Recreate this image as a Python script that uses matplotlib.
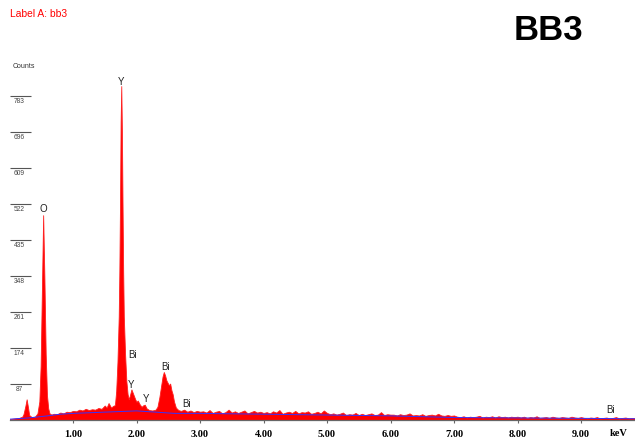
import numpy as np
import matplotlib
matplotlib.use("Agg")
import matplotlib.pyplot as plt

plt.rcParams['font.family'] = ['Liberation Sans', 'DejaVu Sans']

# spectrum, peak region (keV, counts)
peak_kev = [0.00, 0.05, 0.10, 0.15, 0.20, 0.22, 0.25, 0.27, 0.29, 0.31, 0.35, 0.40,
            0.44, 0.47, 0.49, 0.51, 0.53, 0.55, 0.57, 0.59, 0.61, 0.63, 0.66, 0.70,
            0.75, 0.80, 0.85, 0.90, 0.95, 1.00, 1.05, 1.10, 1.15, 1.20, 1.25, 1.30,
            1.35, 1.40, 1.45, 1.50, 1.53, 1.56, 1.60, 1.63, 1.66, 1.68, 1.70, 1.72,
            1.73, 1.74, 1.75, 1.76, 1.77, 1.78, 1.79, 1.80, 1.82, 1.84, 1.86, 1.88,
            1.90, 1.92, 1.94, 1.96, 1.98, 2.00, 2.02, 2.05, 2.08, 2.11, 2.13, 2.16,
            2.20, 2.25, 2.30, 2.33, 2.36, 2.39, 2.41, 2.43, 2.45, 2.47, 2.49, 2.51,
            2.53, 2.55, 2.57, 2.59, 2.62, 2.66, 2.70, 2.75, 2.80, 2.85, 2.90, 2.95, 3.00]
peak_counts = [2, 3, 4, 5, 8, 14, 34, 50, 32, 12, 7, 8,
               16, 45, 130, 310, 495, 340, 160, 60, 28, 16, 13, 15,
               14, 18, 16, 20, 19, 22, 21, 25, 23, 27, 24, 26,
               25, 29, 27, 35, 30, 41, 30, 34, 36, 70, 140, 250,
               360, 520, 720, 807, 700, 520, 360, 250, 160, 95, 62, 50,
               62, 74, 66, 58, 50, 44, 47, 38, 32, 36, 37, 28,
               24, 23, 25, 32, 55, 85, 105, 116, 108, 96, 90, 84,
               88, 72, 62, 45, 30, 24, 22, 25, 20, 23, 19, 22, 20]

# spectrum tail, channels every 0.05 keV from 3.05 to 9.85
tail_counts = [21, 18, 24, 17, 20, 22, 16, 19, 25, 18, 21, 17, 20, 23, 16, 19, 22, 18, 20, 17,
               19, 16, 21, 18, 24, 15, 18, 20, 17, 22, 16, 19, 18, 21, 15, 17, 20, 16, 23, 17,
               14, 16, 13, 15, 18, 12, 14, 13, 17, 12, 15, 12, 14, 16, 12, 13, 19, 12, 14, 13,
               13, 11, 14, 12, 13, 16, 11, 12, 11, 14, 10, 12, 13, 11, 15, 11, 10, 12, 10, 11,
               8, 7, 9, 6, 8, 7, 8, 10, 6, 8, 7, 9, 6, 9, 7, 8, 6, 8, 7, 8,
               6, 8, 5, 7, 6, 9, 5, 6, 7, 5, 8, 6, 5, 7, 6, 5, 8, 6, 5, 7,
               5, 4, 6, 5, 7, 4, 5, 6, 4, 5, 7, 4, 5, 6, 4, 5, 4]
tail_kev = np.round(np.arange(3.05, 9.851, 0.05), 2)

# background fit
bg_kev = [0.0, 0.3, 0.6, 0.8, 1.0, 1.5, 2.0, 2.3, 2.6, 3.0, 4.0, 5.0, 6.0, 7.0, 8.0, 9.0, 9.85]
bg_counts = [2, 5, 10, 14, 16, 19, 22, 19, 16, 16, 14, 12, 10, 6, 5, 4, 3]

# peak labels
labels = ["Y", "O", "Bi", "Y", "Y", "Bi", "Bi", "Bi"]
label_kev = [1.757, 0.528, 1.93, 1.91, 2.15, 2.46, 2.78, 9.46]
label_counts = [817, 510, 157, 84, 50, 128, 38, 23]

yticks = [87, 174, 261, 348, 435, 522, 609, 696, 783]
xticks = [1, 2, 3, 4, 5, 6, 7, 8, 9]

kev = np.concatenate([peak_kev, tail_kev])
counts = np.concatenate([peak_counts, tail_counts])

fig = plt.figure(figsize=(6.35, 4.41), dpi=100)
ax = fig.add_axes([9.5 / 635, 21 / 441, 1 - 9.5 / 635, 360 / 441])

ax.fill_between(kev, 0, counts, color="#ff0000", linewidth=0.6, edgecolor="#ff2020")
ax.plot(bg_kev, bg_counts, color="#3333ff", linewidth=0.7)

for t, x, y in zip(labels, label_kev, label_counts):
    ax.text(x, y, t, ha="center", va="center", fontsize=7, color="#222222")

ax.set_xlim(0, 9.85)
ax.set_ylim(0, 870)

ax.set_xticks(xticks)
ax.set_xticklabels([f"{v:.2f}" for v in xticks], family="Liberation Serif",
                   fontweight="bold", fontsize=7.5)
ax.tick_params(axis="x", direction="out", length=2.5, width=0.8, color="#666666", pad=4.5)

ax.set_yticks(yticks)
ax.tick_params(axis="y", direction="in", length=15, width=0.8, color="#555555", labelleft=False)
for v in yticks:
    ax.annotate(str(v), xy=(0, v), xycoords=("axes fraction", "data"), xytext=(7.2, -4.3),
                textcoords="offset points", ha="center", va="center", fontsize=4.8, color="#444444")

for s in ["top", "right", "left"]:
    ax.spines[s].set_visible(False)
ax.spines["bottom"].set_color("#666666")
ax.spines["bottom"].set_linewidth(0.9)

fig.text(610 / 635, 1 - 434 / 441, "keV", ha="left", va="center",
         family="Liberation Serif", fontweight="bold", fontsize=7.5)

fig.text(10 / 635, 1 - 14 / 441, "Label A: bb3", color="#ff0000", fontsize=7.4, ha="left", va="center")
fig.text(13 / 635, 1 - 67 / 441, "Counts", color="#333333", fontsize=5, ha="left", va="center")
fig.text(548 / 635, 1 - 30 / 441, "BB3", fontsize=25, fontweight="bold", ha="center", va="center")

fig.savefig("out.png", dpi=100)
